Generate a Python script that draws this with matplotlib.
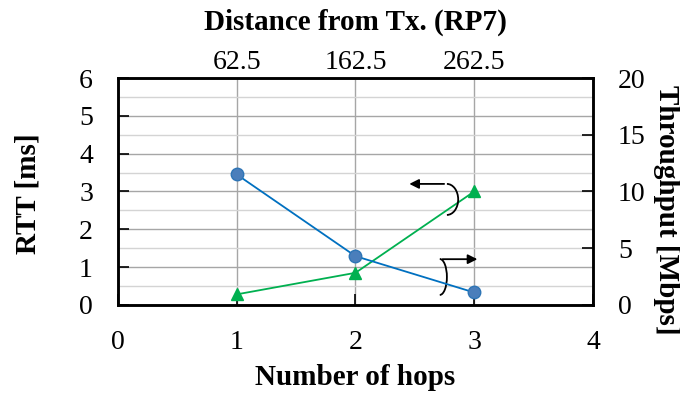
import numpy as np
import matplotlib
matplotlib.use("Agg")
import matplotlib.pyplot as plt
from matplotlib.patches import Arc

hops = [1, 2, 3]
rtt_ms = [0.28, 0.85, 3.0]
throughput_mbps = [11.5, 4.3, 1.1]
distance_labels = ["62.5", "162.5", "262.5"]

plt.rcParams["font.family"] = ["Liberation Serif", "DejaVu Serif"]

fig = plt.figure(figsize=(6.8, 3.94), dpi=100)
ax = fig.add_axes([0.1735, 0.226, 0.6985, 0.576])
ax2 = ax.twinx()

# grid on the left axis
ax.set_xlim(0, 4)
ax.set_ylim(0, 6)
ax.set_xticks([0, 1, 2, 3, 4])
ax.set_yticks(np.arange(0, 7, 1))
ax.set_yticks(np.arange(0, 6.01, 0.5), minor=True)
ax.grid(True, which="major", axis="y", color="#a6a6a6", lw=1.0)
ax.grid(True, which="minor", axis="y", color="#d4d4d4", lw=1.0)
ax.grid(True, which="major", axis="x", color="#a6a6a6", lw=1.0)
ax.set_axisbelow(True)
ax.tick_params(which="major", direction="in", length=8, width=1.2, labelsize=20)
ax.tick_params(axis="y", pad=18)
ax.tick_params(axis="x", pad=18)
ax.tick_params(which="minor", length=0)

ax2.set_ylim(0, 20)
ax2.set_yticks([0, 5, 10, 15, 20])
ax2.tick_params(direction="in", length=8, width=1.2, labelsize=20, pad=18)

ax.plot(hops, rtt_ms, color="#00b050", lw=1.3, marker="^", ms=9,
        markerfacecolor="#00b050", markeredgecolor="#00b050", zorder=3)
ax2.plot(hops, throughput_mbps, color="#0070c0", lw=1.3, marker="o", ms=9,
         markerfacecolor="#4a7ebb", markeredgecolor="#2e75b6", zorder=3)

for s in ax.spines.values():
    s.set_linewidth(1.8)
for s in ax2.spines.values():
    s.set_linewidth(1.8)

ax.set_xlabel("Number of hops", fontsize=21, fontweight="bold", va="center")
ax.xaxis.set_label_coords(0.5, -0.32)
ax.set_ylabel("RTT [ms]", fontsize=21, fontweight="bold", va="center")
ax.yaxis.set_label_coords(-0.19, 0.49)
ax2.set_ylabel("Throughput [Mbps]", fontsize=21, fontweight="bold", rotation=270,
               va="center", ha="center")
ax2.yaxis.set_label_coords(1.154, 0.42)

top = ax.secondary_xaxis("top")
top.set_xticks(hops)
top.set_xticklabels(distance_labels)
top.tick_params(length=0, labelsize=20, pad=2)
ax.text(0.5, 1.245, "Distance from Tx. (RP7)", transform=ax.transAxes,
        fontsize=21, fontweight="bold", ha="center", va="center")

# curved arrows pointing to the axes
ax.add_patch(Arc((2.77, 2.79), 0.19, 0.82, theta1=-90, theta2=90, color="black", lw=1.3, zorder=5))
ax.annotate("", xy=(2.43, 3.2), xytext=(2.77, 3.2),
            arrowprops=dict(arrowstyle="-|>", color="black", lw=1.3, mutation_scale=14), zorder=5)
ax.add_patch(Arc((2.71, 0.74), 0.12, 0.95, theta1=-90, theta2=90, color="black", lw=1.3, zorder=5))
ax.annotate("", xy=(3.05, 1.21), xytext=(2.71, 1.21),
            arrowprops=dict(arrowstyle="-|>", color="black", lw=1.3, mutation_scale=14), zorder=5)

fig.savefig("out.png", dpi=100)
